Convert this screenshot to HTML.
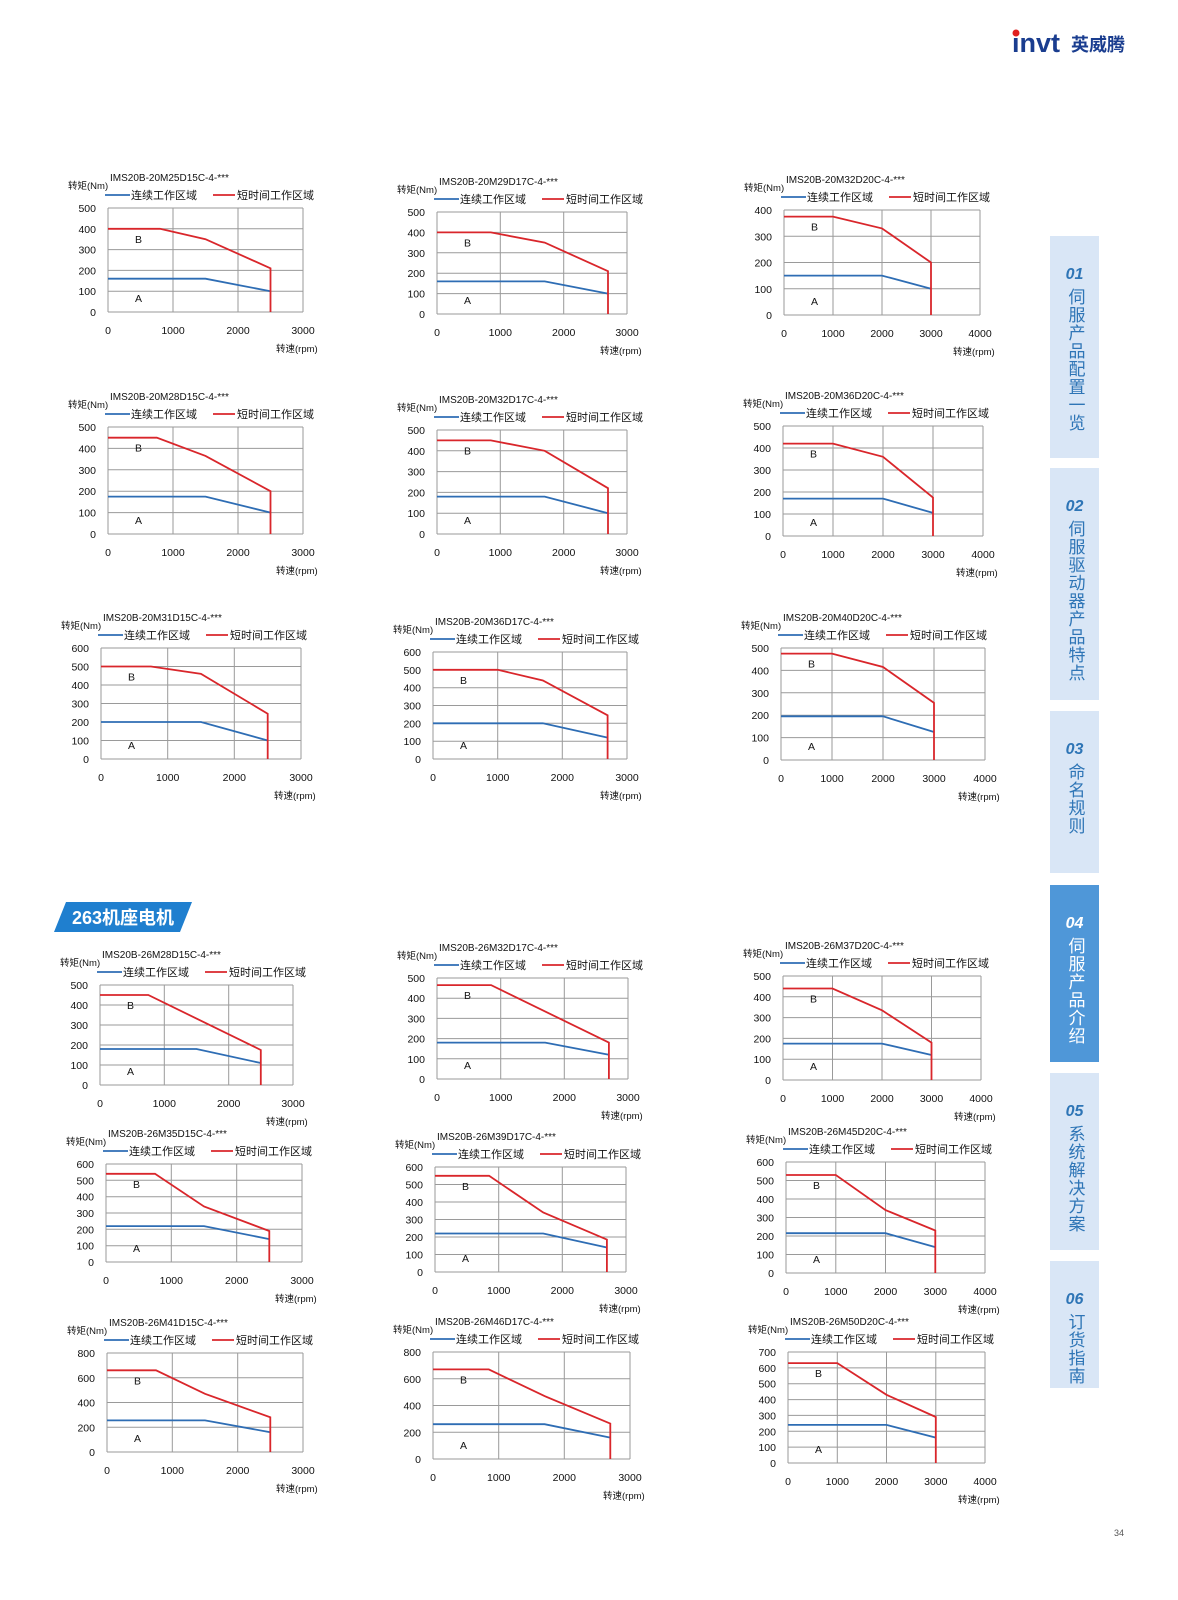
<!DOCTYPE html>
<html><head><meta charset="utf-8">
<style>
html,body{margin:0;padding:0;background:#fff;}
body{width:1178px;height:1600px;position:relative;overflow:hidden;font-family:"Liberation Sans","Noto Sans CJK SC",sans-serif;}
svg{position:absolute;left:0;top:0;}
.tab{position:absolute;left:1050px;width:49px;background:#d9e6f6;color:#2e75b6;text-align:center;}
.tab .n{font-style:italic;font-weight:bold;font-size:16px;margin-top:30px;}
.tab .t{writing-mode:vertical-rl;font-size:17px;line-height:20px;margin:4px auto 0;letter-spacing:1px;}
.tab.on{background:#4f97d8;color:#fff;}
</style></head><body>
<svg id="s" width="1178" height="1600" xmlns="http://www.w3.org/2000/svg" font-family="Liberation Sans, Noto Sans CJK SC, sans-serif">
<text x="1012" y="52" font-size="27" font-weight="bold" fill="#1a3d8f" font-family="Liberation Sans, sans-serif">invt</text>
<circle cx="1016" cy="33" r="3.5" fill="#e02020"/>
<text x="1071" y="51" font-size="18" font-weight="bold" fill="#1a3d8f">英威腾</text>
<polygon points="66,902 192,902 180,932 54,932" fill="#1f7fcf"/>
<text x="72" y="924" font-size="18" font-weight="bold" fill="#fff">263机座电机</text>
<text x="1114" y="1536" font-size="9" fill="#555">34</text>
</svg>
<div class="tab" style="top:236px;height:222px"><div class="n">01</div><div class="t">伺服产品配置一览</div></div>
<div class="tab" style="top:468px;height:232px"><div class="n">02</div><div class="t">伺服驱动器产品特点</div></div>
<div class="tab" style="top:711px;height:162px"><div class="n">03</div><div class="t">命名规则</div></div>
<div class="tab on" style="top:885px;height:177px"><div class="n">04</div><div class="t">伺服产品介绍</div></div>
<div class="tab" style="top:1073px;height:177px"><div class="n">05</div><div class="t">系统解决方案</div></div>
<div class="tab" style="top:1261px;height:127px"><div class="n">06</div><div class="t">订货指南</div></div>
<script>
var C=[
["IMS20B-20M25D15C-4-***",108,303,208,312,3000,500,100,[[0,400],[800,400],[1500,350],[2500,210],[2500,0]],[[0,160],[1500,160],[2000,130],[2500,100]]],
["IMS20B-20M29D17C-4-***",437,627,212,314,3000,500,100,[[0,400],[850,400],[1700,350],[2700,210],[2700,0]],[[0,160],[1700,160],[2700,100]]],
["IMS20B-20M32D20C-4-***",784,980,210,315,4000,400,100,[[0,375],[1000,375],[2000,330],[3000,200],[3000,0]],[[0,150],[2000,150],[3000,100]]],
["IMS20B-20M28D15C-4-***",108,303,427,534,3000,500,100,[[0,450],[750,450],[1500,365],[2500,200],[2500,0]],[[0,175],[1500,175],[2500,100]]],
["IMS20B-20M32D17C-4-***",437,627,430,534,3000,500,100,[[0,450],[850,450],[1700,400],[2700,220],[2700,0]],[[0,180],[1700,180],[2700,100]]],
["IMS20B-20M36D20C-4-***",783,983,426,536,4000,500,100,[[0,420],[1000,420],[2000,360],[3000,175],[3000,0]],[[0,170],[2000,170],[3000,105]]],
["IMS20B-20M31D15C-4-***",101,301,648,759,3000,600,100,[[0,500],[750,500],[1500,460],[2500,245],[2500,0]],[[0,200],[1500,200],[2500,100]]],
["IMS20B-20M36D17C-4-***",433,627,652,759,3000,600,100,[[0,500],[1000,500],[1700,440],[2700,245],[2700,0]],[[0,200],[1700,200],[2700,120]]],
["IMS20B-20M40D20C-4-***",781,985,648,760,4000,500,100,[[0,475],[1000,475],[2000,415],[3000,255],[3000,0]],[[0,195],[2000,195],[3000,125]]],
["IMS20B-26M28D15C-4-***",100,293,985,1085,3000,500,100,[[0,450],[750,450],[2500,175],[2500,0]],[[0,180],[1500,180],[2500,110]]],
["IMS20B-26M32D17C-4-***",437,628,978,1079,3000,500,100,[[0,465],[850,465],[2700,180],[2700,0]],[[0,180],[1700,180],[2700,120]]],
["IMS20B-26M37D20C-4-***",783,981,976,1080,4000,500,100,[[0,440],[1000,440],[2000,335],[3000,180],[3000,0]],[[0,175],[2000,175],[3000,120]]],
["IMS20B-26M35D15C-4-***",106,302,1164,1262,3000,600,100,[[0,540],[750,540],[1500,340],[2500,190],[2500,0]],[[0,220],[1500,220],[2500,140]]],
["IMS20B-26M39D17C-4-***",435,626,1167,1272,3000,600,100,[[0,550],[850,550],[1700,340],[2700,185],[2700,0]],[[0,220],[1700,220],[2700,140]]],
["IMS20B-26M45D20C-4-***",786,985,1162,1273,4000,600,100,[[0,530],[1000,530],[2000,340],[3000,230],[3000,0]],[[0,215],[2000,215],[3000,140]]],
["IMS20B-26M41D15C-4-***",107,303,1353,1452,3000,800,200,[[0,660],[750,660],[1500,470],[2500,280],[2500,0]],[[0,255],[1500,255],[2500,160]]],
["IMS20B-26M46D17C-4-***",433,630,1352,1459,3000,800,200,[[0,670],[850,670],[1700,470],[2700,265],[2700,0]],[[0,260],[1700,260],[2700,160]]],
["IMS20B-26M50D20C-4-***",788,985,1352,1463,4000,700,100,[[0,630],[1000,630],[2000,430],[3000,290],[3000,0]],[[0,240],[2000,240],[3000,160]]]
];
var h='';
C.forEach(function(c){
 var t=c[0],L=c[1],R=c[2],T=c[3],B=c[4],xm=c[5],ym=c[6],st=c[7];
 function X(v){return (L+(R-L)*v/xm).toFixed(1);}
 function Y(v){return (B-(B-T)*v/ym).toFixed(1);}
 for(var v=0;v<=ym;v+=st){h+='<line x1="'+L+'" x2="'+R+'" y1="'+Y(v)+'" y2="'+Y(v)+'" stroke="#9a9a9a" stroke-width="1"/>';
  h+='<text x="'+(L-12)+'" y="'+(+Y(v)+4)+'" font-size="10.5" text-anchor="end" fill="#111">'+v+'</text>';}
 for(var v=0;v<=xm;v+=1000){h+='<line x1="'+X(v)+'" x2="'+X(v)+'" y1="'+T+'" y2="'+B+'" stroke="#9a9a9a" stroke-width="1"/>';
  h+='<text x="'+X(v)+'" y="'+(B+22)+'" font-size="10.5" text-anchor="middle" fill="#111">'+v+'</text>';}
 function P(a){return a.map(function(p){return X(p[0])+','+Y(p[1]);}).join(' ');}
 h+='<polyline points="'+P(c[9])+'" fill="none" stroke="#2e6db4" stroke-width="1.8"/>';
 h+='<polyline points="'+P(c[8])+'" fill="none" stroke="#d9262b" stroke-width="1.8"/>';
 h+='<text x="'+(L+2)+'" y="'+(T-27)+'" font-size="10" fill="#111">'+t+'</text>';
 h+='<text x="'+(L-40)+'" y="'+(T-19)+'" font-size="9.5" fill="#111">转矩(Nm)</text>';
 h+='<line x1="'+(L-3)+'" x2="'+(L+22)+'" y1="'+(T-13)+'" y2="'+(T-13)+'" stroke="#2e6db4" stroke-width="1.8"/>';
 h+='<text x="'+(L+23)+'" y="'+(T-9)+'" font-size="11" fill="#111">连续工作区域</text>';
 h+='<line x1="'+(L+105)+'" x2="'+(L+127)+'" y1="'+(T-13)+'" y2="'+(T-13)+'" stroke="#d9262b" stroke-width="1.8"/>';
 h+='<text x="'+(L+129)+'" y="'+(T-9)+'" font-size="11" fill="#111">短时间工作区域</text>';
 h+='<text x="'+(R-27)+'" y="'+(B+40)+'" font-size="9.5" fill="#111">转速(rpm)</text>';
 h+='<text x="'+(L+27)+'" y="'+(+Y(c[8][0][1])+14)+'" font-size="10.5" fill="#111">B</text>';
 h+='<text x="'+(L+27)+'" y="'+(B-10)+'" font-size="10.5" fill="#111">A</text>';
});
document.getElementById('s').insertAdjacentHTML('beforeend',h);
</script>
</body></html>
